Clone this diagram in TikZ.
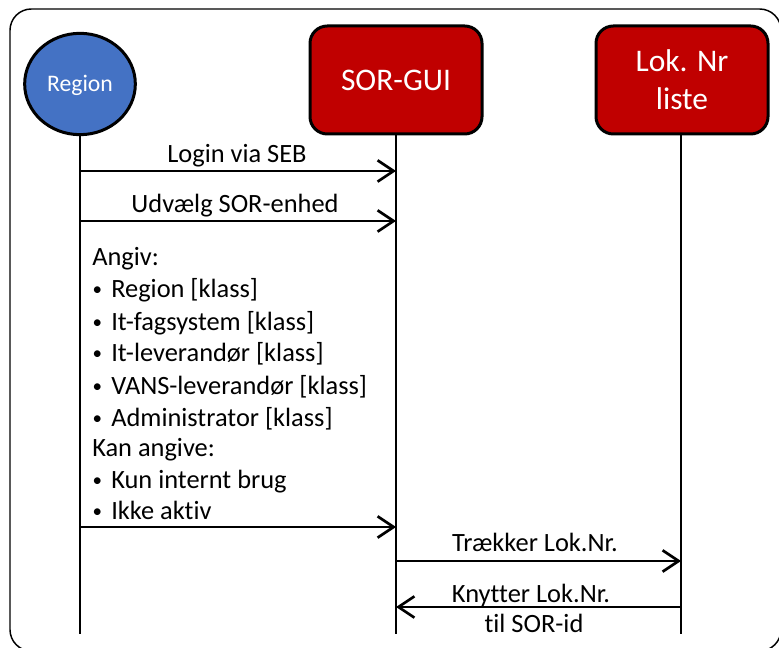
\documentclass[tikz,border=0pt]{standalone}
\usepackage{fontspec}
\setmainfont{Carlito}[Ligatures=NoCommon]
\usetikzlibrary{shapes.geometric,arrows.meta}
\definecolor{regblue}{HTML}{4472C4}
\definecolor{sorred}{HTML}{C00000}
\newcommand{\mybul}{\makebox[15pt][l]{\hspace{1pt}\raisebox{1.6pt}{\scalebox{0.72}{•}}}}
\begin{document}
\begin{tikzpicture}[x=0.75pt,y=-0.75pt,
  actorbox/.style={draw=black,line width=2.25pt,fill=sorred,rounded corners=13pt,
    minimum width=129pt,minimum height=81pt,inner sep=0pt},
  hdr/.style={text=white,font=\fontsize{23.6}{28.5}\selectfont,inner sep=0pt,anchor=base},
  lifeline/.style={line width=1.6pt},
  msg/.style={line width=2pt,-{Straight Barb[length=12pt,width=16pt,line width=2pt]}},
  lbl/.style={font=\fontsize{19.8}{24}\selectfont,inner sep=0pt,anchor=base},
  lst/.style={font=\fontsize{19.8}{24}\selectfont,inner sep=0pt,anchor=base west}]
\useasboundingbox (0,0) rectangle (779,648);
% frame
\draw[line width=1.1pt,rounded corners=16pt] (10,9) rectangle (781,651);
% actors
\node[ellipse,draw=black,line width=2.25pt,fill=regblue,minimum width=83pt,minimum height=76pt,inner sep=0pt] (region) at (80,84) {};
\node[text=white,font=\fontsize{17.8}{20}\selectfont,inner sep=0pt,anchor=base] (regtxt) at (80,92) {Region};
\node[actorbox] (sorgui) at (396,80) {};
\node[hdr] (sortxt) at (396,91) {SOR-GUI};
\node[actorbox] (lok) at (682,80) {};
\node[hdr] (loktxt1) at (682,72) {Lok. Nr};
\node[hdr] (loktxt2) at (682,110) {liste};
% lifeline ends
\coordinate (rend) at (80,634);
\coordinate (send) at (396,634);
\coordinate (lend) at (681,634);
\draw[lifeline] (region.south) -- (rend);
\draw[lifeline] (sorgui.south) -- (send);
\draw[lifeline] (lok.south -| lend) -- (lend);
% message points
\coordinate (r1) at (80,171); \coordinate (s1) at (396,171);
\coordinate (r2) at (80,221); \coordinate (s2) at (396,221);
\coordinate (r3) at (80,527); \coordinate (s3) at (396,527);
\coordinate (s4) at (396,561); \coordinate (l4) at (681,561);
\coordinate (s5) at (396,607); \coordinate (l5) at (681,607);
\draw[msg] (r1) -- (s1);
\draw[msg] (r2) -- (s2);
\draw[msg] (r3) -- (s3);
\draw[msg] (s4) -- (l4);
\draw[msg] (l5) -- (s5);
% labels
\node[lbl] (m1) at (237,163) {Login via SEB};
\node[lbl] (m2) at (235,213) {Udvælg SOR-enhed};
\node[lbl] (m4) at (535,552) {Trækker Lok.Nr.};
\node[lbl] (m5a) at (531,603) {Knytter Lok.Nr.};
\node[lbl] (m5b) at (534,633) {til SOR-id};
\node[lst] (t1) at (92,266) {Angiv:};
\node[lst] (t2) at (91,298) {\mybul Region [klass]};
\node[lst] (t3) at (91,331) {\mybul It-fagsystem [klass]};
\node[lst] (t4) at (91,362) {\mybul It-leverandør [klass]};
\node[lst] (t5) at (91,395) {\mybul VANS-leverandør [klass]};
\node[lst] (t6) at (91,427) {\mybul Administrator [klass]};
\node[lst] (t7) at (92,457) {Kan angive:};
\node[lst] (t8) at (91,489) {\mybul Kun internt brug};
\node[lst] (t9) at (91,520) {\mybul Ikke aktiv};
\end{tikzpicture}
\end{document}
